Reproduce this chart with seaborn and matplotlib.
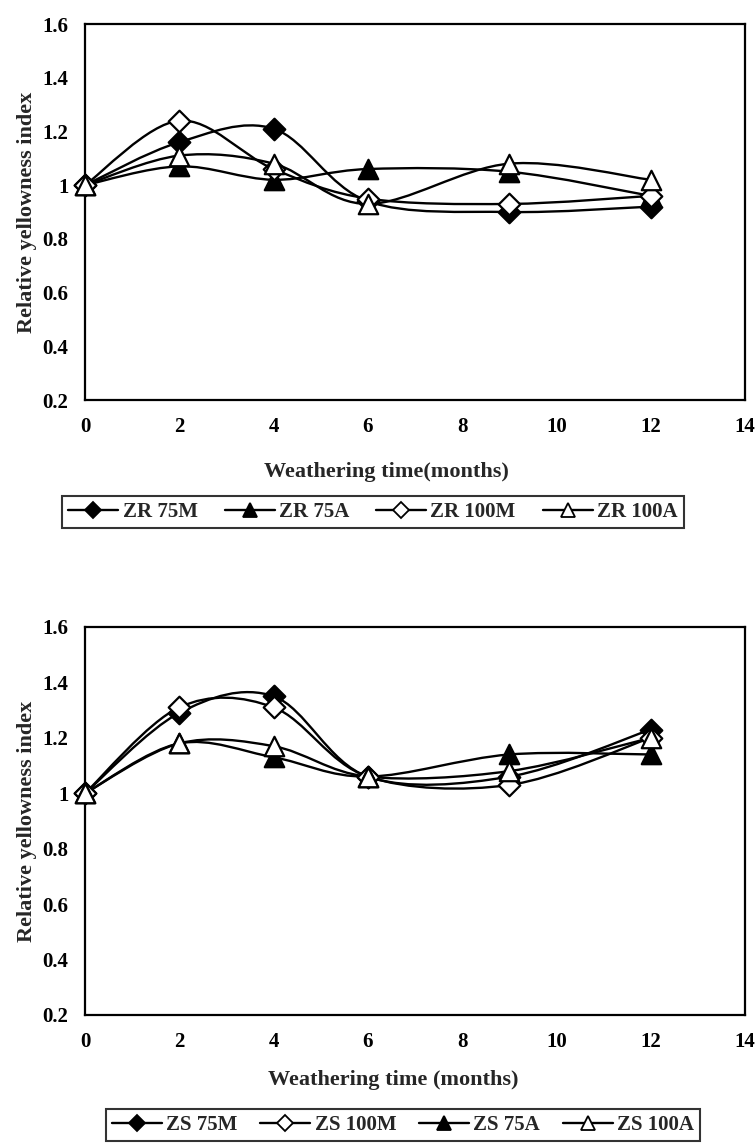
import numpy as np
import pandas as pd
import matplotlib
matplotlib.use("Agg")
import matplotlib.pyplot as plt
from matplotlib.path import Path
from matplotlib.patches import PathPatch
from matplotlib.lines import Line2D
import seaborn as sns

# ----- data -----
months = [0, 2, 4, 6, 9, 12]

zr_75m = [1.00, 1.16, 1.21, 0.94, 0.90, 0.92]
zr_75a = [1.00, 1.07, 1.02, 1.06, 1.05, 0.96]
zr_100m = [1.00, 1.24, 1.06, 0.95, 0.93, 0.96]
zr_100a = [1.00, 1.11, 1.08, 0.93, 1.08, 1.02]

zs_75m = [1.00, 1.29, 1.35, 1.06, 1.06, 1.23]
zs_100m = [1.00, 1.31, 1.31, 1.06, 1.03, 1.20]
zs_75a = [1.00, 1.18, 1.13, 1.06, 1.14, 1.14]
zs_100a = [1.00, 1.18, 1.17, 1.06, 1.08, 1.20]

y_ticks = [0.2, 0.4, 0.6, 0.8, 1.0, 1.2, 1.4, 1.6]
y_ticklabels = ["0.2", "0.4", "0.6", "0.8", "1", "1.2", "1.4", "1.6"]
x_ticks = [0, 2, 4, 6, 8, 10, 12, 14]

# marker style per series: (marker, face colour, size)
styles = {"75M": ("D", "black", 11), "100M": ("D", "white", 11),
          "75A": ("^", "black", 14), "100A": ("^", "white", 14)}

sns.set_style("white")
plt.rcParams.update({"font.family": ["Liberation Serif", "DejaVu Serif"],
                     "font.weight": "bold",
                     "axes.labelweight": "bold",
                     "font.size": 15})

W, H = 756, 1145
fig = plt.figure(figsize=(W / 100, H / 100), dpi=100)


def smooth_path(xs, ys):
    # Excel-like smoothed line: cubic Bezier through every point
    pts = np.column_stack([xs, ys]).astype(float)
    ext = np.vstack([pts[0], pts, pts[-1]])
    verts = [pts[0]]
    codes = [Path.MOVETO]
    for i in range(len(pts) - 1):
        p0, p1, p2, p3 = ext[i], ext[i + 1], ext[i + 2], ext[i + 3]
        c1 = p1 + (p2 - p0) / 6
        c2 = p2 - (p3 - p1) / 6
        verts += [c1, c2, p2]
        codes += [Path.CURVE4] * 3
    return Path(verts, codes)


def panel(ax, series, xlabel, label_x, label_y):
    for name, vals in series:
        key = name.split()[-1]
        marker, face, size = styles[key]
        ax.add_patch(PathPatch(smooth_path(months, vals), fill=False,
                               edgecolor="black", lw=1.7, zorder=2))
        df = pd.DataFrame({"month": months, "value": vals})
        sns.scatterplot(data=df, x="month", y="value", marker=marker, s=size ** 2,
                        color=face, edgecolor="black", linewidth=1.6, ax=ax,
                        zorder=3, clip_on=False)
    ax.set_xlim(0, 14)
    ax.set_ylim(0.2, 1.6)
    ax.set_xticks(x_ticks)
    ax.set_yticks(y_ticks)
    ax.set_yticklabels(y_ticklabels)
    ax.tick_params(direction="out", length=5, width=1.5, colors="black",
                   labelsize=15, pad=7)
    for sp in ax.spines.values():
        sp.set_color("black")
        sp.set_linewidth(1.6)
    ax.set_xlabel(xlabel, fontsize=16)
    ax.xaxis.set_label_coords(label_x, label_y)
    ax.set_ylabel("Relative yellowness index", fontsize=16, labelpad=4)
    handles = []
    for name, _ in series:
        marker, face, size = styles[name.split()[-1]]
        handles.append(Line2D([], [], color="black", lw=1.7, marker=marker,
                              markersize=size * 0.7, markerfacecolor=face,
                              markeredgecolor="black", markeredgewidth=1.3,
                              label=name))
    return handles


ax1 = fig.add_axes([85 / W, 1 - 400 / H, 660 / W, 376 / H])
h1 = panel(ax1, [("ZR 75M", zr_75m), ("ZR 75A", zr_75a),
                 ("ZR 100M", zr_100m), ("ZR 100A", zr_100a)],
           "Weathering time(months)", 0.456, -0.165)
leg1 = fig.legend(handles=h1, ncol=4, loc="center", bbox_to_anchor=(373 / W, 1 - 512 / H),
                  frameon=True, fancybox=False, edgecolor="black", handlelength=2.4,
                  columnspacing=1.3, handletextpad=0.2, fontsize=15, borderpad=0.3)
leg1.get_frame().set_linewidth(1.5)

ax2 = fig.add_axes([85 / W, 1 - 1015 / H, 660 / W, 388 / H])
h2 = panel(ax2, [("ZS 75M", zs_75m), ("ZS 100M", zs_100m),
                 ("ZS 75A", zs_75a), ("ZS 100A", zs_100a)],
           "Weathering time (months)", 0.467, -0.142)
leg2 = fig.legend(handles=h2, ncol=4, loc="center", bbox_to_anchor=(403 / W, 1 - 1125 / H),
                  frameon=True, fancybox=False, edgecolor="black", handlelength=2.4,
                  columnspacing=1.1, handletextpad=0.2, fontsize=15, borderpad=0.3)
leg2.get_frame().set_linewidth(1.5)

fig.savefig("out.png", dpi=100)
